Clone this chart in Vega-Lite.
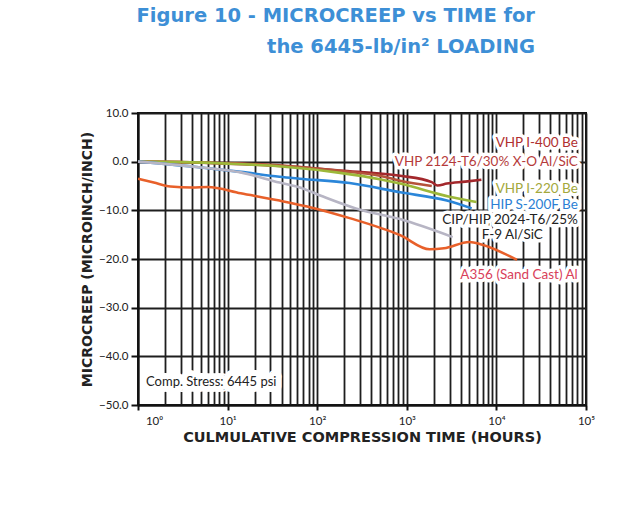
{
  "$schema": "https://vega.github.io/schema/vega-lite/v6.json",
  "width": 448,
  "height": 292,
  "autosize": {"type": "none"},
  "padding": {"left": 138, "top": 113, "right": 35, "bottom": 108},
  "background": "white",
  "config": {
    "view": {"stroke": "#111111", "strokeWidth": 2},
    "font": "Lato"
  },
  "title": {
    "text": ["Figure 10 - MICROCREEP vs TIME for", "the 6445-lb/in² LOADING"],
    "anchor": "end",
    "align": "right",
    "frame": "group",
    "font": "DejaVu Sans",
    "fontSize": 19.5,
    "fontWeight": "bold",
    "color": "#3d8fd6",
    "lineHeight": 31,
    "dx": -51,
    "offset": 50
  },
  "datasets": {
    "series": [
      {"series": "VHP I-400 Be", "t": 1, "v": 0},
      {"series": "VHP I-400 Be", "t": 3, "v": -0.1},
      {"series": "VHP I-400 Be", "t": 10, "v": -0.4},
      {"series": "VHP I-400 Be", "t": 40, "v": -0.9},
      {"series": "VHP I-400 Be", "t": 180, "v": -1.8},
      {"series": "VHP I-400 Be", "t": 842, "v": -2.9},
      {"series": "VHP I-400 Be", "t": 1900, "v": -4.2},
      {"series": "VHP I-400 Be", "t": 2200, "v": -4.9},
      {"series": "VHP I-400 Be", "t": 2800, "v": -4.5},
      {"series": "VHP I-400 Be", "t": 4500, "v": -4.1},
      {"series": "VHP I-400 Be", "t": 6800, "v": -3.7},
      {"series": "VHP 2124-T6/30% X-O Al/SiC", "t": 1, "v": 0},
      {"series": "VHP 2124-T6/30% X-O Al/SiC", "t": 3, "v": -0.1},
      {"series": "VHP 2124-T6/30% X-O Al/SiC", "t": 10, "v": -0.3},
      {"series": "VHP 2124-T6/30% X-O Al/SiC", "t": 40, "v": -0.8},
      {"series": "VHP 2124-T6/30% X-O Al/SiC", "t": 180, "v": -1.9},
      {"series": "VHP 2124-T6/30% X-O Al/SiC", "t": 500, "v": -2.9},
      {"series": "VHP 2124-T6/30% X-O Al/SiC", "t": 842, "v": -3.9},
      {"series": "VHP 2124-T6/30% X-O Al/SiC", "t": 1900, "v": -5.0},
      {"series": "VHP I-220 Be", "t": 1, "v": 0},
      {"series": "VHP I-220 Be", "t": 3, "v": -0.1},
      {"series": "VHP I-220 Be", "t": 10, "v": -0.4},
      {"series": "VHP I-220 Be", "t": 40, "v": -1.0},
      {"series": "VHP I-220 Be", "t": 180, "v": -2.3},
      {"series": "VHP I-220 Be", "t": 500, "v": -3.6},
      {"series": "VHP I-220 Be", "t": 842, "v": -4.5},
      {"series": "VHP I-220 Be", "t": 3000, "v": -7.2},
      {"series": "VHP I-220 Be", "t": 6000, "v": -8.3},
      {"series": "HIP S-200F Be", "t": 1, "v": 0},
      {"series": "HIP S-200F Be", "t": 4.5, "v": -1.1},
      {"series": "HIP S-200F Be", "t": 14, "v": -2.1},
      {"series": "HIP S-200F Be", "t": 38, "v": -3.1},
      {"series": "HIP S-200F Be", "t": 64, "v": -3.5},
      {"series": "HIP S-200F Be", "t": 230, "v": -4.4},
      {"series": "HIP S-200F Be", "t": 842, "v": -6.3},
      {"series": "HIP S-200F Be", "t": 2800, "v": -8.0},
      {"series": "HIP S-200F Be", "t": 5300, "v": -9.6},
      {"series": "CIP/HIP 2024-T6/25% F-9 Al/SiC", "t": 1, "v": 0},
      {"series": "CIP/HIP 2024-T6/25% F-9 Al/SiC", "t": 4.5, "v": -1.1},
      {"series": "CIP/HIP 2024-T6/25% F-9 Al/SiC", "t": 14, "v": -2.2},
      {"series": "CIP/HIP 2024-T6/25% F-9 Al/SiC", "t": 38, "v": -4.3},
      {"series": "CIP/HIP 2024-T6/25% F-9 Al/SiC", "t": 64, "v": -5.3},
      {"series": "CIP/HIP 2024-T6/25% F-9 Al/SiC", "t": 110, "v": -7.0},
      {"series": "CIP/HIP 2024-T6/25% F-9 Al/SiC", "t": 270, "v": -9.6},
      {"series": "CIP/HIP 2024-T6/25% F-9 Al/SiC", "t": 842, "v": -11.8},
      {"series": "CIP/HIP 2024-T6/25% F-9 Al/SiC", "t": 3250, "v": -15.5},
      {"series": "A356 (Sand Cast) Al", "t": 1, "v": -3.5},
      {"series": "A356 (Sand Cast) Al", "t": 1.5, "v": -4.3},
      {"series": "A356 (Sand Cast) Al", "t": 2.3, "v": -5.1},
      {"series": "A356 (Sand Cast) Al", "t": 4, "v": -5.3},
      {"series": "A356 (Sand Cast) Al", "t": 6, "v": -5.2},
      {"series": "A356 (Sand Cast) Al", "t": 14, "v": -6.5},
      {"series": "A356 (Sand Cast) Al", "t": 38, "v": -8.0},
      {"series": "A356 (Sand Cast) Al", "t": 90, "v": -9.5},
      {"series": "A356 (Sand Cast) Al", "t": 230, "v": -11.6},
      {"series": "A356 (Sand Cast) Al", "t": 842, "v": -15.1},
      {"series": "A356 (Sand Cast) Al", "t": 1800, "v": -18.0},
      {"series": "A356 (Sand Cast) Al", "t": 2600, "v": -17.8},
      {"series": "A356 (Sand Cast) Al", "t": 5000, "v": -16.5},
      {"series": "A356 (Sand Cast) Al", "t": 6800, "v": -17.0},
      {"series": "A356 (Sand Cast) Al", "t": 17000, "v": -20.2}
    ],
    "labels": [
      {"series": "VHP I-400 Be", "label": "VHP I-400 Be", "t": 81000, "v": 3.9},
      {"series": "VHP 2124-T6/30% X-O Al/SiC", "label": "VHP 2124-T6/30% X-O Al/SiC", "t": 81000, "v": 0},
      {"series": "VHP I-220 Be", "label": "VHP I-220 Be", "t": 81000, "v": -5.7},
      {"series": "HIP S-200F Be", "label": "HIP S-200F Be", "t": 81000, "v": -9.0},
      {"series": "CIP/HIP 2024-T6/25% F-9 Al/SiC", "label": "CIP/HIP 2024-T6/25%", "t": 81000, "v": -12.0},
      {"series": "CIP/HIP 2024-T6/25% F-9 Al/SiC", "label": "F-9 Al/SiC", "t": 33000, "v": -15.1},
      {"series": "A356 (Sand Cast) Al", "label": "A356 (Sand Cast) Al", "t": 81000, "v": -23.3}
    ],
    "note": [
      {"note": "Comp. Stress: 6445 psi", "t": 1.23, "v": -45.3}
    ]
  },
  "encoding": {
    "x": {
      "field": "t",
      "type": "quantitative",
      "scale": {"type": "log", "domain": [1, 100000], "nice": false},
      "axis": {
        "values": [1,2,3,4,5,6,7,8,9,10,20,30,40,50,60,70,80,90,100,200,300,400,500,600,700,800,900,1000,2000,3000,4000,5000,6000,7000,8000,9000,10000,20000,30000,40000,50000,60000,70000,80000,90000,100000],
        "labelExpr": "datum.value == 1 ? '10⁰' : datum.value == 10 ? '10¹' : datum.value == 100 ? '10²' : datum.value == 1000 ? '10³' : datum.value == 10000 ? '10⁴' : datum.value == 100000 ? '10⁵' : ''",
        "labelOverlap": false,
        "labelFlush": false,
        "labelOffset": {"condition": {"test": "datum.value == 1", "value": 16}, "value": 0},
        "labelFont": "Lato",
        "labelFontSize": 11.5,
        "labelColor": "#222222",
        "labelPadding": 5,
        "tickSize": 5,
        "tickWidth": 2,
        "tickColor": "#111111",
        "tickOpacity": {"condition": {"test": "datum.value == 1 || datum.value == 10 || datum.value == 100 || datum.value == 1000 || datum.value == 10000 || datum.value == 100000", "value": 1}, "value": 0},
        "domainColor": "#111111",
        "domainWidth": 2,
        "grid": true,
        "gridColor": "#1e1e1e",
        "gridWidth": 1.8,
        "gridOpacity": 1,
        "title": "CULMULATIVE COMPRESSION TIME (HOURS)",
        "titleFont": "DejaVu Sans",
        "titleFontSize": 14.5,
        "titleFontWeight": "bold",
        "titleColor": "#222222",
        "titlePadding": 4
      }
    },
    "y": {
      "field": "v",
      "type": "quantitative",
      "scale": {"domain": [-50, 10], "nice": false, "zero": false},
      "axis": {
        "values": [-50, -40, -30, -20, -10, 0, 10],
        "format": ".1f",
        "labelFont": "Lato",
        "labelFontSize": 11.5,
        "labelColor": "#222222",
        "labelPadding": 3,
        "tickSize": 7,
        "tickWidth": 2,
        "tickColor": "#111111",
        "domainColor": "#111111",
        "domainWidth": 2,
        "grid": true,
        "gridColor": "#1e1e1e",
        "gridWidth": 1.8,
        "gridOpacity": 1,
        "title": "MICROCREEP (MICROINCH/INCH)",
        "titleFont": "DejaVu Sans",
        "titleFontSize": 14,
        "titleFontWeight": "bold",
        "titleColor": "#222222",
        "titlePadding": 4
      }
    }
  },
  "layer": [
    {
      "data": {"name": "series"},
      "mark": {"type": "line", "strokeWidth": 2.6, "interpolate": "monotone", "clip": true},
      "encoding": {
        "detail": {"field": "series"},
        "color": {
          "field": "series",
          "type": "nominal",
          "legend": null,
          "scale": {
            "domain": ["VHP I-400 Be", "VHP 2124-T6/30% X-O Al/SiC", "VHP I-220 Be", "HIP S-200F Be", "CIP/HIP 2024-T6/25% F-9 Al/SiC", "A356 (Sand Cast) Al"],
            "range": ["#a3282c", "#b5533a", "#9db83a", "#2b86d9", "#b7b5c4", "#e8602a"]
          }
        }
      }
    },
    {
      "data": {"name": "labels"},
      "mark": {"type": "text", "align": "right", "baseline": "middle", "font": "Lato", "fontSize": 13.5, "stroke": "white", "strokeWidth": 7, "strokeJoin": "round", "fill": "white"},
      "encoding": {"text": {"field": "label"}}
    },
    {
      "data": {"name": "labels"},
      "mark": {"type": "text", "align": "right", "baseline": "middle", "font": "Lato", "fontSize": 13.5},
      "encoding": {
        "text": {"field": "label"},
        "color": {
          "field": "series",
          "type": "nominal",
          "legend": null,
          "scale": {
            "domain": ["VHP I-400 Be", "VHP 2124-T6/30% X-O Al/SiC", "VHP I-220 Be", "HIP S-200F Be", "CIP/HIP 2024-T6/25% F-9 Al/SiC", "A356 (Sand Cast) Al"],
            "range": ["#b03030", "#b53a3a", "#a3a83c", "#2b7fd4", "#222222", "#d8415a"]
          }
        }
      }
    },
    {
      "data": {"name": "note"},
      "mark": {"type": "text", "align": "left", "baseline": "middle", "font": "Lato", "fontSize": 13, "stroke": "white", "strokeWidth": 12, "strokeJoin": "round", "fill": "white"},
      "encoding": {"text": {"field": "note"}}
    },
    {
      "data": {"name": "note"},
      "mark": {"type": "text", "align": "left", "baseline": "middle", "font": "Lato", "fontSize": 13, "color": "#222222"},
      "encoding": {"text": {"field": "note"}}
    }
  ],
  "resolve": {"scale": {"color": "independent"}}
}
